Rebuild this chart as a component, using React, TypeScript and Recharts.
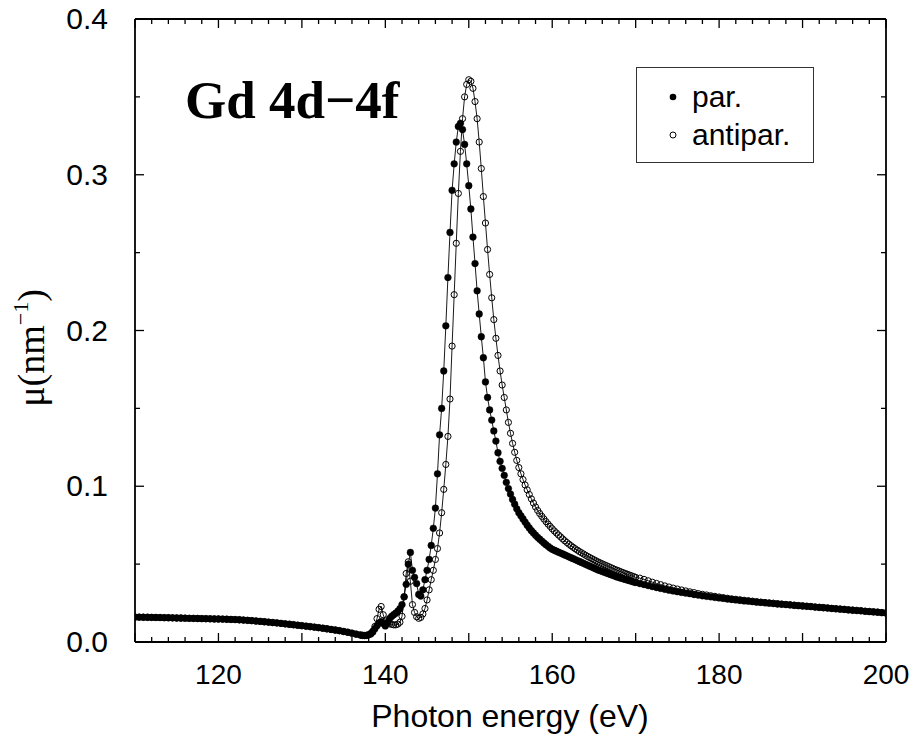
import { LineChart, Line, XAxis, YAxis, Legend } from "recharts";

// photon energy grid (eV)
const energy = [
  110, 110.5, 111, 111.5, 112, 112.5, 113, 113.5, 114, 114.5, 115, 115.5, 116, 116.5, 117, 117.5, 118, 118.5, 119, 119.5,
  120, 120.5, 121, 121.5, 122, 122.5, 123, 123.5, 124, 124.5, 125, 125.5, 126, 126.5, 127, 127.5, 128, 128.5, 129, 129.5,
  130, 130.5, 131, 131.5, 132, 132.5, 133, 133.5, 134, 134.5, 135, 135.5, 136, 136.5,
  137, 137.25, 137.5, 137.75, 138, 138.25, 138.5, 138.75, 139, 139.25, 139.5, 139.75,
  140, 140.25, 140.5, 140.75, 141, 141.25, 141.5, 141.75, 142, 142.25, 142.5, 142.75,
  143, 143.25, 143.5, 143.75, 144, 144.25, 144.5, 144.75, 145, 145.25, 145.5, 145.75,
  146, 146.25, 146.5, 146.75, 147, 147.25, 147.5, 147.75, 148, 148.25, 148.5, 148.75,
  149, 149.25, 149.5, 149.75, 150, 150.25, 150.5, 150.75, 151, 151.25, 151.5, 151.75,
  152, 152.25, 152.5, 152.75, 153, 153.25, 153.5, 153.75, 154, 154.25, 154.5, 154.75,
  155, 155.25, 155.5, 155.75, 156, 156.25, 156.5, 156.75, 157, 157.25, 157.5, 157.75,
  158, 158.25, 158.5, 158.75, 159, 159.25, 159.5, 159.75, 160, 160.25, 160.5, 160.75,
  161, 161.25, 161.5, 161.75, 162, 162.25, 162.5, 162.75, 163, 163.25, 163.5, 163.75,
  164, 164.25, 164.5, 164.75, 165, 165.25, 165.5, 165.75, 166, 166.25, 166.5, 166.75,
  167, 167.25, 167.5, 167.75, 168, 168.25, 168.5, 168.75, 169, 169.25, 169.5, 169.75, 170,
  170.5, 171, 171.5, 172, 172.5, 173, 173.5, 174, 174.5, 175, 175.5, 176, 176.5, 177, 177.5, 178, 178.5, 179, 179.5, 180,
  180.5, 181, 181.5, 182, 182.5, 183, 183.5, 184, 184.5, 185, 185.5, 186, 186.5, 187, 187.5, 188, 188.5, 189, 189.5, 190,
  190.5, 191, 191.5, 192, 192.5, 193, 193.5, 194, 194.5, 195, 195.5, 196, 196.5, 197, 197.5, 198, 198.5, 199, 199.5, 200,
];

// mu (nm^-1), parallel alignment
const par = [
  0.016, 0.016, 0.0159, 0.0159, 0.0158, 0.0158, 0.0157, 0.0156, 0.0156, 0.0155, 0.0154, 0.0154, 0.0153, 0.0152, 0.0152, 0.0151, 0.015, 0.015, 0.0149, 0.0148,
  0.0148, 0.0147, 0.0146, 0.0145, 0.0144, 0.0143, 0.0141, 0.0139, 0.0137, 0.0135, 0.0133, 0.013, 0.0128, 0.0125, 0.0123, 0.012, 0.0117, 0.0114, 0.0111, 0.0108,
  0.0105, 0.0102, 0.0099, 0.0096, 0.0092, 0.0089, 0.0085, 0.0081, 0.0077, 0.0073, 0.0068, 0.0063, 0.0057, 0.0051,
  0.0046, 0.0043, 0.0042, 0.0043, 0.0046, 0.0052, 0.0065, 0.0085, 0.0105, 0.0122, 0.013, 0.0118,
  0.0103, 0.0125, 0.015, 0.0164, 0.0175, 0.0185, 0.0198, 0.0214, 0.024, 0.029, 0.037, 0.05,
  0.0575, 0.046, 0.0415, 0.0375, 0.0305, 0.0295, 0.0335, 0.04, 0.046, 0.053, 0.062, 0.073,
  0.086, 0.108, 0.133, 0.15, 0.174, 0.203, 0.234, 0.263, 0.29, 0.307, 0.321, 0.331,
  0.333, 0.329, 0.3195, 0.307, 0.293, 0.278, 0.26, 0.243, 0.2255, 0.2106, 0.196, 0.1825,
  0.167, 0.157, 0.149, 0.1425, 0.1355, 0.129, 0.1215, 0.116, 0.1115, 0.107, 0.1025, 0.0985,
  0.095, 0.0915, 0.0885, 0.0855, 0.083, 0.081, 0.079, 0.077, 0.075, 0.0732, 0.0715, 0.07,
  0.0686, 0.0672, 0.066, 0.0648, 0.0636, 0.0625, 0.0614, 0.0604, 0.0595, 0.0589, 0.0583, 0.0577,
  0.0571, 0.0565, 0.0559, 0.0553, 0.0547, 0.0541, 0.0535, 0.0529, 0.0523, 0.0517, 0.0511, 0.0505,
  0.0499, 0.0493, 0.0487, 0.0481, 0.0475, 0.0469, 0.0463, 0.0458, 0.0453, 0.0448, 0.0443, 0.0438,
  0.0433, 0.0428, 0.0423, 0.0418, 0.0414, 0.041, 0.0406, 0.0402, 0.0398, 0.0394, 0.039, 0.0386, 0.0382,
  0.0375, 0.0369, 0.0362, 0.0356, 0.035, 0.0344, 0.0338, 0.0333, 0.0328, 0.0323, 0.0318, 0.0314, 0.031, 0.0305, 0.0301, 0.0297, 0.0293, 0.029, 0.0286, 0.0283,
  0.028, 0.0276, 0.0273, 0.027, 0.0267, 0.0264, 0.0262, 0.0259, 0.0256, 0.0254, 0.0251, 0.0249, 0.0247, 0.0244, 0.0242, 0.024, 0.0238, 0.0235, 0.0233, 0.0231,
  0.0229, 0.0227, 0.0224, 0.0222, 0.022, 0.0218, 0.0215, 0.0213, 0.0211, 0.0209, 0.0206, 0.0204, 0.0202, 0.02, 0.0197, 0.0195, 0.0193, 0.0191, 0.0188, 0.0186,
];

// mu (nm^-1), antiparallel alignment
const antipar = [
  0.016, 0.0159, 0.0159, 0.0158, 0.0158, 0.0157, 0.0157, 0.0156, 0.0155, 0.0155, 0.0154, 0.0153, 0.0153, 0.0152, 0.0151, 0.0151, 0.015, 0.0149, 0.0149, 0.0148,
  0.0147, 0.0147, 0.0146, 0.0145, 0.0144, 0.0142, 0.0141, 0.0139, 0.0137, 0.0134, 0.0132, 0.013, 0.0127, 0.0125, 0.0122, 0.0119, 0.0116, 0.0113, 0.011, 0.0107,
  0.0104, 0.0101, 0.0098, 0.0095, 0.0092, 0.0088, 0.0084, 0.008, 0.0076, 0.0072, 0.0067, 0.0062, 0.0056, 0.005,
  0.0044, 0.0042, 0.0041, 0.0042, 0.0046, 0.0055, 0.007, 0.01, 0.015, 0.021, 0.0228, 0.0175,
  0.0135, 0.0122, 0.0118, 0.0113, 0.011, 0.011, 0.0115, 0.0127, 0.0165, 0.029, 0.044, 0.0515,
  0.039, 0.024, 0.019, 0.0162, 0.0152, 0.0158, 0.018, 0.0215, 0.027, 0.0335, 0.04, 0.046,
  0.053, 0.06, 0.07, 0.083, 0.098, 0.114, 0.132, 0.156, 0.19, 0.223, 0.256, 0.288,
  0.315, 0.336, 0.35, 0.358, 0.361, 0.36, 0.3555, 0.347, 0.336, 0.321, 0.304, 0.286,
  0.269, 0.252, 0.236, 0.221, 0.207, 0.195, 0.184, 0.174, 0.165, 0.157, 0.149, 0.141,
  0.134, 0.1275, 0.1218, 0.1166, 0.112, 0.108, 0.1043, 0.1008, 0.0977, 0.0947, 0.0919, 0.0892,
  0.0867, 0.0845, 0.0825, 0.0807, 0.079, 0.0773, 0.0757, 0.0742, 0.0727, 0.0713, 0.07, 0.0687,
  0.0675, 0.0662, 0.065, 0.0639, 0.0628, 0.0618, 0.0608, 0.0599, 0.059, 0.0581, 0.0573, 0.0565,
  0.0557, 0.0549, 0.0542, 0.0535, 0.0528, 0.0521, 0.0514, 0.0508, 0.0502, 0.0496, 0.049, 0.0484,
  0.0478, 0.0472, 0.0466, 0.0461, 0.0456, 0.045, 0.0445, 0.044, 0.0435, 0.043, 0.0425, 0.042, 0.0415,
  0.041, 0.0402, 0.0393, 0.0384, 0.0376, 0.0368, 0.036, 0.0353, 0.0346, 0.034, 0.0334, 0.0328, 0.0322, 0.0317, 0.0311, 0.0306, 0.0302, 0.0297, 0.0293, 0.0289,
  0.0285, 0.0281, 0.0277, 0.0274, 0.0271, 0.0268, 0.0265, 0.0262, 0.0259, 0.0256, 0.0254, 0.0251, 0.0249, 0.0246, 0.0244, 0.0241, 0.0239, 0.0237, 0.0234, 0.0232,
  0.023, 0.0228, 0.0225, 0.0223, 0.0221, 0.0219, 0.0216, 0.0214, 0.0212, 0.021, 0.0207, 0.0205, 0.0203, 0.0201, 0.0198, 0.0196, 0.0194, 0.0192, 0.0189, 0.0187,
];

const xTicks = [
  110, 112, 114, 116, 118, 120, 122, 124, 126, 128, 130, 132, 134, 136, 138, 140, 142, 144, 146, 148,
  150, 152, 154, 156, 158, 160, 162, 164, 166, 168, 170, 172, 174, 176, 178, 180, 182, 184, 186, 188,
  190, 192, 194, 196, 198, 200,
];
const yTicks = [0, 0.05, 0.1, 0.15, 0.2, 0.25, 0.3, 0.35, 0.4];
const seriesOrder = ["par", "antipar"];

const data = energy.map((e, i) => ({ e, par: par[i], antipar: antipar[i] }));

const SANS = "'Liberation Sans', Arial, sans-serif";
const SERIF = "'Liberation Serif', 'Times New Roman', serif";

const isMajorX = (v: number) => v % 10 === 0;
const isMajorY = (v: number) => Math.round(v * 100) % 10 === 0;

const BottomTick = ({ x, y, payload }: any) => {
  const v = payload.value;
  return (
    <g>
      <line x1={x} x2={x} y1={y} y2={y - (isMajorX(v) ? 9 : 5)} stroke="#000" strokeWidth={1.3} />
      {v % 20 === 0 && (
        <text x={x} y={y + 42} textAnchor="middle" fontSize={28} fontFamily={SANS} fill="#000">
          {v}
        </text>
      )}
    </g>
  );
};

const TopTick = ({ x, y, payload }: any) => (
  <line x1={x} x2={x} y1={y} y2={y + (isMajorX(payload.value) ? 9 : 5)} stroke="#000" strokeWidth={1.3} />
);

const LeftTick = ({ x, y, payload }: any) => {
  const v = payload.value;
  return (
    <g>
      <line x1={x} x2={x + (isMajorY(v) ? 9 : 5)} y1={y} y2={y} stroke="#000" strokeWidth={1.3} />
      {isMajorY(v) && (
        <text x={x - 27} y={y + 10} textAnchor="end" fontSize={30} fontFamily={SANS} fill="#000">
          {v.toFixed(1)}
        </text>
      )}
    </g>
  );
};

const RightTick = ({ x, y, payload }: any) => (
  <line x1={x} x2={x - (isMajorY(payload.value) ? 9 : 5)} y1={y} y2={y} stroke="#000" strokeWidth={1.3} />
);

const LegendBox = ({ payload }: any) => {
  const items = [...(payload || [])].sort(
    (a: any, b: any) => seriesOrder.indexOf(a.dataKey) - seriesOrder.indexOf(b.dataKey)
  );
  return (
    <div
      style={{
        width: 178,
        height: 96,
        border: "1px solid #333",
        background: "#fff",
        boxSizing: "border-box",
        fontFamily: SANS,
        fontSize: 30,
        color: "#000",
        paddingTop: 10,
      }}
    >
      {items.map((p: any) => (
        <div key={p.value} style={{ display: "flex", alignItems: "center", height: 38 }}>
          <svg width={55} height={20}>
            {p.dataKey === "par" ? (
              <circle cx={36} cy={10} r={3.3} fill="#000" />
            ) : (
              <circle cx={36} cy={10} r={3} fill="none" stroke="#000" strokeWidth={1} />
            )}
          </svg>
          <span>{p.value}</span>
        </div>
      ))}
    </div>
  );
};

export default function App() {
  const axisLine = { stroke: "#000", strokeWidth: 1.8 };
  return (
    <div style={{ position: "absolute", left: 0, top: 0 }}>
      <LineChart width={917} height={736} data={data} margin={{ top: 18, right: 30, bottom: 93, left: 134 }}>
        <XAxis
          xAxisId="b"
          dataKey="e"
          type="number"
          domain={[110, 200]}
          allowDataOverflow
          ticks={xTicks}
          interval={0}
          height={1}
          tickSize={0}
          tickMargin={0}
          tickLine={false}
          axisLine={axisLine}
          tick={<BottomTick />}
        />
        <XAxis
          xAxisId="t"
          orientation="top"
          dataKey="e"
          type="number"
          domain={[110, 200]}
          allowDataOverflow
          ticks={xTicks}
          interval={0}
          height={1}
          tickSize={0}
          tickMargin={0}
          tickLine={false}
          axisLine={axisLine}
          tick={<TopTick />}
        />
        <YAxis
          yAxisId="l"
          type="number"
          domain={[0, 0.4]}
          allowDataOverflow
          ticks={yTicks}
          interval={0}
          width={1}
          tickSize={0}
          tickMargin={0}
          tickLine={false}
          axisLine={axisLine}
          tick={<LeftTick />}
        />
        <YAxis
          yAxisId="r"
          orientation="right"
          type="number"
          domain={[0, 0.4]}
          allowDataOverflow
          ticks={yTicks}
          interval={0}
          width={1}
          tickSize={0}
          tickMargin={0}
          tickLine={false}
          axisLine={axisLine}
          tick={<RightTick />}
        />
        <Line
          xAxisId="b"
          yAxisId="l"
          dataKey="par"
          name="par."
          type="linear"
          stroke="#000"
          strokeWidth={0.9}
          dot={{ r: 3.4, fill: "#000", stroke: "#000", strokeWidth: 0.4 }}
          isAnimationActive={false}
        />
        <Line
          xAxisId="t"
          yAxisId="r"
          dataKey="antipar"
          name="antipar."
          type="linear"
          stroke="#000"
          strokeWidth={0.9}
          dot={{ r: 3.1, fill: "none", stroke: "#000", strokeWidth: 1 }}
          isAnimationActive={false}
        />
        <Legend
          layout="horizontal"
          verticalAlign="middle"
          align="center"
          content={<LegendBox />}
          wrapperStyle={{ left: 636, top: 67, width: 178, height: 96 }}
        />
        <text x={185} y={118} fontFamily={SERIF} fontWeight="bold" fontSize={53} fill="#000">
          Gd 4d−4f
        </text>
        <text
          transform="translate(44, 348) rotate(-90)"
          textAnchor="middle"
          fontFamily={SERIF}
          fontSize={38}
          fill="#000"
        >
          μ(nm
          <tspan fontSize={22} dy={-16}>−1</tspan>
          <tspan dy={16}>)</tspan>
        </text>
        <text x={510} y={727} textAnchor="middle" fontFamily={SANS} fontSize={32} fill="#000">
          Photon energy (eV)
        </text>
      </LineChart>
    </div>
  );
}
